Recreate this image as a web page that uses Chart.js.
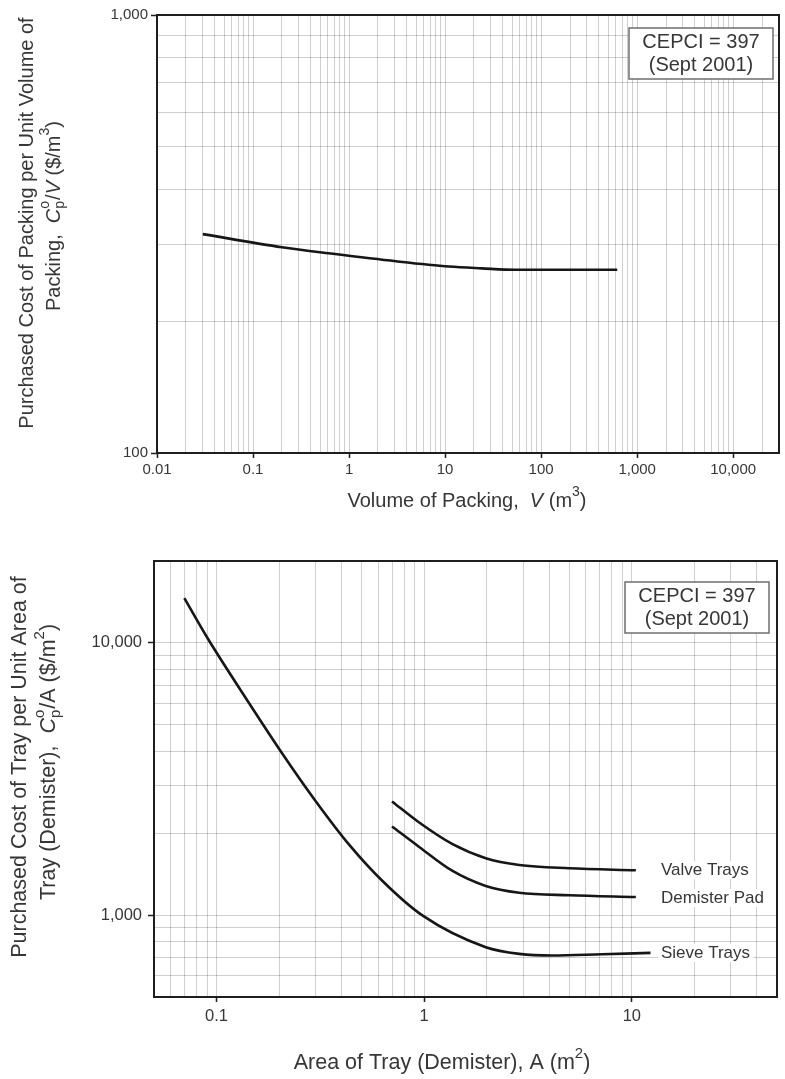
<!DOCTYPE html>
<html>
<head>
<meta charset="utf-8">
<script src="https://cdn.jsdelivr.net/npm/chart.js@4.4.1/dist/chart.umd.min.js"></script>
<style>
  html, body { margin: 0; padding: 0; background: #ffffff; }
  .wrap { position: absolute; left: 0; width: 785px; }
  canvas { display: block; }
</style>
</head>
<body>
<div class="wrap" style="top:0;height:530px"><canvas id="c1" width="785" height="530"></canvas></div>
<div class="wrap" style="top:530px;height:549px"><canvas id="c2" width="785" height="549"></canvas></div>
<script>
// ---------- DATA ----------
// Top chart: packing
const packingVolume = [0.03, 0.2, 0.68, 3.08, 11, 24, 54, 120, 620];
const packingCost   = [316, 295, 285, 274, 266.5, 264, 262, 262, 262];

// Bottom chart: trays / demister
const sieveArea    = [0.07, 0.0906, 0.144, 0.208, 0.301, 0.435, 0.63, 0.98, 1.98, 2.87, 4.15, 7.2, 12.3];
const sieveCost    = [14600, 10400, 5985, 3910, 2616, 1815, 1334, 997, 762, 720, 710, 718, 726];
const valveArea    = [0.7, 0.946, 1.37, 1.98, 2.87, 4.99, 10.45];
const valveCost    = [2616, 2188, 1822, 1618, 1528, 1486, 1461];
const demisterArea = [0.7, 0.946, 1.37, 1.98, 2.87, 4.99, 10.45];
const demisterCost = [2116, 1780, 1452, 1279, 1208, 1182, 1165];

const seriesNames = ['Valve Trays', 'Demister Pad', 'Sieve Trays'];

// Tick labels
const topXTickValues = [0.01, 0.1, 1, 10, 100, 1000, 10000];
const topXTickLabels = ['0.01', '0.1', '1', '10', '100', '1,000', '10,000'];
const topYTickValues = [100, 1000];
const topYTickLabels = ['100', '1,000'];
const botXTickValues = [0.1, 1, 10];
const botXTickLabels = ['0.1', '1', '10'];
const botYTickValues = [1000, 10000];
const botYTickLabels = ['1,000', '10,000'];

// Axis ranges
const topXRange = [0.01, 30000];
const topYRange = [100, 1000];
const botXRange = [0.05, 50];
const botYRange = [500, 20000];

// Annotation text
const cepciLines = ['CEPCI = 397', '(Sept 2001)'];

// Titles (rich text segments)
const topYTitle = [
  [{t: 'Purchased Cost of Packing per Unit Volume of'}],
  [{t: 'Packing,  '}, {t: 'C', it: true}, {st: ['o', 'p']}, {t: '/'}, {t: 'V', it: true}, {t: ' ($/m'}, {t: '3', sup: true}, {t: ')'}]
];
const topXTitle = [{t: 'Volume of Packing,  '}, {t: 'V', it: true}, {t: ' (m'}, {t: '3', sup: true}, {t: ')'}];
const botYTitle = [
  [{t: 'Purchased Cost of Tray per Unit Area of'}],
  [{t: 'Tray (Demister),  '}, {t: 'C', it: true}, {st: ['o', 'p']}, {t: '/A ($/m'}, {t: '2', sup: true}, {t: ')'}]
];
const botXTitle = [{t: 'Area of Tray (Demister), A (m'}, {t: '2', sup: true}, {t: ')'}];

// ---------- helpers ----------
const FAMILY = '"Liberation Sans", Arial, Helvetica, sans-serif';
const TEXT = '#363636';
const GRID = 'rgba(0,0,0,0.19)';
const FRAME = '#1e1e1e';
const LINE = '#161616';

function logGrid(min, max) {
  const out = [];
  const e0 = Math.floor(Math.log10(min)), e1 = Math.ceil(Math.log10(max));
  for (let e = e0; e <= e1; e++) {
    for (let m = 1; m < 10; m++) {
      const v = parseFloat((m * Math.pow(10, e)).toPrecision(8));
      if (v >= min * 0.9999 && v <= max * 1.0001) out.push(v);
    }
  }
  return out;
}
function near(a, b) { return Math.abs(Math.log10(a) - Math.log10(b)) < 1e-6; }
function labelOf(v, vals, labs) {
  for (let i = 0; i < vals.length; i++) if (near(v, vals[i])) return labs[i];
  return '';
}
function isLabelled(v, vals) { return vals.some(x => near(v, x)); }
function pts(xs, ys) { return xs.map((x, i) => ({x: x, y: ys[i]})); }

function fontStr(size, it) { return (it ? 'italic ' : '') + size + 'px ' + FAMILY; }

function drawRich(ctx, segs, x, y, rot, size, color) {
  const small = Math.round(size * 0.68);
  let total = 0;
  const items = segs.map(s => {
    let w;
    if (s.st) {
      ctx.font = fontStr(small, false);
      w = Math.max(ctx.measureText(s.st[0]).width, ctx.measureText(s.st[1]).width) + 1;
    } else if (s.sup || s.sub) {
      ctx.font = fontStr(small, s.it);
      w = ctx.measureText(s.t).width;
    } else {
      ctx.font = fontStr(size, s.it);
      w = ctx.measureText(s.t).width;
    }
    total += w;
    return {s, w};
  });
  ctx.save();
  ctx.translate(x, y);
  ctx.rotate(rot);
  ctx.fillStyle = color;
  ctx.textAlign = 'left';
  ctx.textBaseline = 'middle';
  let cx = -total / 2;
  for (const {s, w} of items) {
    if (s.st) {
      ctx.font = fontStr(small, false);
      ctx.fillText(s.st[0], cx, -size * 0.42);
      ctx.fillText(s.st[1], cx, size * 0.32);
    } else if (s.sup) {
      ctx.font = fontStr(small, s.it);
      ctx.fillText(s.t, cx, -size * 0.42);
    } else if (s.sub) {
      ctx.font = fontStr(small, s.it);
      ctx.fillText(s.t, cx, size * 0.32);
    } else {
      ctx.font = fontStr(size, s.it);
      ctx.fillText(s.t, cx, 0);
    }
    cx += w;
  }
  ctx.restore();
}

// Plugin: frame, titles, annotation box, curve labels
const decorPlugin = {
  id: 'decor',
  afterDraw(chart, args, opts) {
    const ctx = chart.ctx;
    const a = chart.chartArea;
    // frame
    ctx.save();
    ctx.strokeStyle = FRAME;
    ctx.lineWidth = 2;
    ctx.strokeRect(a.left, a.top, a.right - a.left, a.bottom - a.top);
    ctx.restore();

    // y title lines
    opts.yTitle.forEach((line, i) => {
      drawRich(ctx, line, opts.yTitlePos[i][0], opts.yTitlePos[i][1], -Math.PI / 2, opts.titleSize, TEXT);
    });
    // x title
    drawRich(ctx, opts.xTitle, opts.xTitlePos[0], opts.xTitlePos[1], 0, opts.titleSize, TEXT);

    // CEPCI box
    const b = opts.box;
    const bx = a.right - b.right - b.w, by = a.top + b.top;
    ctx.save();
    ctx.fillStyle = '#ffffff';
    ctx.fillRect(bx, by, b.w, b.h);
    ctx.strokeStyle = '#6f6f6f';
    ctx.lineWidth = 1.5;
    ctx.strokeRect(bx, by, b.w, b.h);
    ctx.fillStyle = TEXT;
    ctx.font = fontStr(b.size, false);
    ctx.textAlign = 'center';
    ctx.textBaseline = 'middle';
    ctx.fillText(cepciLines[0], bx + b.w / 2, by + b.line1);
    ctx.fillText(cepciLines[1], bx + b.w / 2, by + b.line2);
    ctx.restore();

    // curve labels
    if (opts.curveLabels) {
      const xs = chart.scales.x, ys = chart.scales.y;
      ctx.save();
      ctx.font = fontStr(opts.curveLabels.size, false);
      ctx.textAlign = 'left';
      ctx.textBaseline = 'middle';
      opts.curveLabels.items.forEach(it => {
        const ds = chart.data.datasets[it.ds];
        const last = ds.data[ds.data.length - 1];
        const px = xs.getPixelForValue(opts.curveLabels.atX);
        const py = ys.getPixelForValue(last.y) + (it.dy || 0);
        const w = ctx.measureText(ds.label).width;
        ctx.fillStyle = '#ffffff';
        ctx.fillRect(px - 3, py - 9, w + 6, 18);
        ctx.fillStyle = TEXT;
        ctx.fillText(ds.label, px, py);
      });
      ctx.restore();
    }
  }
};

function makeScales(cfg) {
  return {
    x: {
      type: 'logarithmic',
      min: cfg.xRange[0], max: cfg.xRange[1],
      afterBuildTicks: s => { s.ticks = logGrid(cfg.xRange[0], cfg.xRange[1]).map(v => ({value: v})); },
      afterFit: s => { s.height = cfg.xAxisH; },
      ticks: {
        autoSkip: false, maxRotation: 0, minRotation: 0, padding: cfg.xPad,
        color: TEXT, font: {family: FAMILY, size: cfg.tickSize},
        callback: v => labelOf(v, cfg.xVals, cfg.xLabs)
      },
      grid: {
        color: GRID, lineWidth: 1, drawTicks: true, tickLength: 5, tickWidth: 1.5,
        tickColor: c => (c.tick && isLabelled(c.tick.value, cfg.xVals)) ? FRAME : 'rgba(0,0,0,0)'
      },
      border: {display: false}
    },
    y: {
      type: 'logarithmic',
      min: cfg.yRange[0], max: cfg.yRange[1],
      afterBuildTicks: s => { s.ticks = logGrid(cfg.yRange[0], cfg.yRange[1]).map(v => ({value: v})); },
      afterFit: s => { s.width = cfg.yAxisW; },
      ticks: {
        autoSkip: false, padding: cfg.yPad,
        color: TEXT, font: {family: FAMILY, size: cfg.tickSize},
        callback: v => labelOf(v, cfg.yVals, cfg.yLabs)
      },
      grid: {
        color: GRID, lineWidth: 1, drawTicks: true, tickLength: 6, tickWidth: 1.5,
        tickColor: c => (c.tick && isLabelled(c.tick.value, cfg.yVals)) ? FRAME : 'rgba(0,0,0,0)'
      },
      border: {display: false}
    }
  };
}

const lineStyle = {
  borderColor: LINE, borderWidth: 2.6, pointRadius: 0, fill: false,
  cubicInterpolationMode: 'monotone'
};

// ---------- Top chart ----------
new Chart(document.getElementById('c1'), {
  type: 'line',
  data: {
    datasets: [Object.assign({label: 'Packing', data: pts(packingVolume, packingCost)}, lineStyle)]
  },
  options: {
    responsive: false, animation: false, events: [],
    layout: {padding: {left: 0, right: 6, top: 15, bottom: 0}},
    plugins: {
      legend: {display: false}, tooltip: {enabled: false},
      decor: {
        yTitle: topYTitle, yTitlePos: [[27, 223], [54, 216]],
        xTitle: topXTitle, xTitlePos: [467, 501],
        titleSize: 20,
        box: {right: 6, top: 13, w: 144, h: 51, size: 20, line1: 14, line2: 37}
      }
    },
    scales: makeScales({
      xRange: topXRange, yRange: topYRange, xAxisH: 77, yAxisW: 157,
      xVals: topXTickValues, xLabs: topXTickLabels, yVals: topYTickValues, yLabs: topYTickLabels,
      tickSize: 15, xPad: 3, yPad: 3
    })
  },
  plugins: [decorPlugin]
});

// ---------- Bottom chart ----------
new Chart(document.getElementById('c2'), {
  type: 'line',
  data: {
    datasets: [
      Object.assign({label: seriesNames[0], data: pts(valveArea, valveCost)}, lineStyle),
      Object.assign({label: seriesNames[1], data: pts(demisterArea, demisterCost)}, lineStyle),
      Object.assign({label: seriesNames[2], data: pts(sieveArea, sieveCost)}, lineStyle)
    ]
  },
  options: {
    responsive: false, animation: false, events: [],
    layout: {padding: {left: 0, right: 8, top: 31, bottom: 0}},
    plugins: {
      legend: {display: false}, tooltip: {enabled: false},
      decor: {
        yTitle: botYTitle, yTitlePos: [[20, 237], [49, 232]],
        xTitle: botXTitle, xTitlePos: [442, 533],
        titleSize: 21.5,
        box: {right: 8, top: 21, w: 144, h: 51, size: 20, line1: 14, line2: 37},
        curveLabels: {size: 17, atX: 13.8, items: [{ds: 0, dy: 0}, {ds: 1, dy: 1}, {ds: 2, dy: 0}]}
      }
    },
    scales: makeScales({
      xRange: botXRange, yRange: botYRange, xAxisH: 82, yAxisW: 154,
      xVals: botXTickValues, xLabs: botXTickLabels, yVals: botYTickValues, yLabs: botYTickLabels,
      tickSize: 16.5, xPad: 5, yPad: 6
    })
  },
  plugins: [decorPlugin]
});
</script>
</body>
</html>
